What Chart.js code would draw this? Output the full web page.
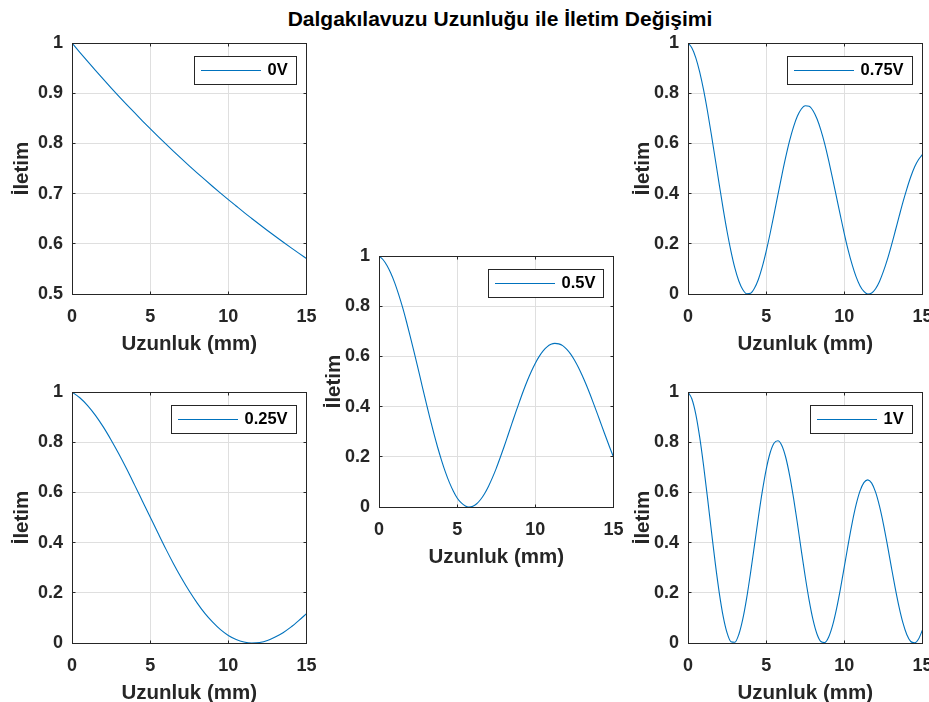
<!DOCTYPE html>
<html>
<head>
<meta charset="utf-8">
<script src="https://cdn.jsdelivr.net/npm/chart.js@4.4.1/dist/chart.umd.min.js"></script>
<style>
  html, body { margin: 0; padding: 0; background: #fff; overflow: hidden; }
  #fig { position: relative; width: 929px; height: 702px; overflow: hidden; background: #fff; }
  #title {
    position: absolute; left: 500px; top: 8px; transform: translateX(-50%);
    font: bold 21px "Liberation Sans", Arial, Helvetica, sans-serif; line-height: 21px;
    white-space: nowrap; color: #000;
  }
  .panel { position: absolute; }
</style>
</head>
<body>
<div id="fig">
  <div id="title">Dalgakılavuzu Uzunluğu ile İletim Değişimi</div>
</div>
<script>
// waveguide length samples (mm)
const lengthCoarse = [0, 0.5, 1, 1.5, 2, 2.5, 3, 3.5, 4, 4.5, 5, 5.5, 6, 6.5, 7, 7.5, 8, 8.5, 9, 9.5, 10,
  10.5, 11, 11.5, 12, 12.5, 13, 13.5, 14, 14.5, 15];
const lengthFine = [0, 0.25, 0.5, 0.75, 1, 1.25, 1.5, 1.75, 2, 2.25, 2.5, 2.75, 3, 3.25, 3.5, 3.75, 4, 4.25,
  4.5, 4.75, 5, 5.25, 5.5, 5.75, 6, 6.25, 6.5, 6.75, 7, 7.25, 7.5, 7.75, 8, 8.25, 8.5, 8.75, 9, 9.25, 9.5,
  9.75, 10, 10.25, 10.5, 10.75, 11, 11.25, 11.5, 11.75, 12, 12.25, 12.5, 12.75, 13, 13.25, 13.5, 13.75, 14,
  14.25, 14.5, 14.75, 15];

// transmission for each applied voltage
const trans0V = [1.0000, 0.9815, 0.9633, 0.9455, 0.9279, 0.9107, 0.8939, 0.8773, 0.8611, 0.8451, 0.8295,
  0.8141, 0.7990, 0.7842, 0.7697, 0.7554, 0.7414, 0.7277, 0.7142, 0.7010, 0.6880, 0.6753, 0.6627, 0.6505,
  0.6384, 0.6266, 0.6150, 0.6036, 0.5924, 0.5814, 0.5707];
const trans025V = [1.000, 0.977, 0.946, 0.907, 0.861, 0.809, 0.753, 0.693, 0.630, 0.566, 0.502, 0.438, 0.375,
  0.315, 0.259, 0.207, 0.160, 0.118, 0.083, 0.053, 0.030, 0.014, 0.004, 0.000, 0.002, 0.010, 0.024, 0.041,
  0.063, 0.089, 0.117];
const trans05V = [1.000, 0.986, 0.963, 0.932, 0.894, 0.848, 0.797, 0.740, 0.679, 0.616, 0.551, 0.485, 0.420,
  0.356, 0.295, 0.238, 0.186, 0.139, 0.098, 0.064, 0.036, 0.017, 0.005, 0.000, 0.003, 0.013, 0.030, 0.053,
  0.082, 0.116, 0.154, 0.196, 0.240, 0.286, 0.332, 0.378, 0.422, 0.465, 0.505, 0.541, 0.573, 0.600, 0.622,
  0.638, 0.648, 0.652, 0.650, 0.643, 0.629, 0.610, 0.586, 0.557, 0.524, 0.488, 0.449, 0.408, 0.366, 0.323,
  0.281, 0.239, 0.199];
const trans075V = [1.000, 0.980, 0.941, 0.884, 0.812, 0.727, 0.633, 0.535, 0.436, 0.339, 0.249, 0.170, 0.103,
  0.052, 0.018, 0.001, 0.003, 0.023, 0.058, 0.108, 0.170, 0.240, 0.316, 0.395, 0.472, 0.545, 0.611, 0.666,
  0.709, 0.737, 0.750, 0.748, 0.730, 0.698, 0.653, 0.597, 0.531, 0.460, 0.386, 0.312, 0.240, 0.174, 0.117,
  0.069, 0.033, 0.010, 0.000, 0.004, 0.021, 0.050, 0.090, 0.137, 0.191, 0.249, 0.308, 0.366, 0.419, 0.467,
  0.507, 0.536, 0.556];
const trans1V = [1.000, 0.972, 0.911, 0.819, 0.705, 0.577, 0.444, 0.315, 0.200, 0.106, 0.040, 0.005, 0.003,
  0.034, 0.094, 0.178, 0.279, 0.389, 0.500, 0.603, 0.691, 0.757, 0.796, 0.806, 0.787, 0.740, 0.668, 0.578,
  0.476, 0.368, 0.264, 0.170, 0.092, 0.036, 0.006, 0.002, 0.024, 0.070, 0.136, 0.216, 0.304, 0.394, 0.478,
  0.550, 0.605, 0.639, 0.650, 0.637, 0.601, 0.545, 0.474, 0.392, 0.305, 0.221, 0.144, 0.080, 0.033, 0.006,
  0.001, 0.016, 0.052];

const voltLabels = ['0V', '0.25V', '0.5V', '0.75V', '1V'];

const FONT = '"Liberation Sans", Arial, Helvetica, sans-serif';
const INK = '#262626';
const LINE = 'rgb(0,114,189)';

// plot area of each subplot (px inside the figure)
const panels = [
  { label: voltLabels[0], xs: lengthCoarse, ys: trans0V,   left: 72,  top: 43,  yMin: 0.5, yStep: 0.1, yPad: 10.5 },
  { label: voltLabels[3], xs: lengthFine,   ys: trans075V, left: 688, top: 43,  yMin: 0,   yStep: 0.2, yPad: 15 },
  { label: voltLabels[2], xs: lengthFine,   ys: trans05V,  left: 379, top: 256, yMin: 0,   yStep: 0.2, yPad: 15 },
  { label: voltLabels[1], xs: lengthCoarse, ys: trans025V, left: 72,  top: 392, yMin: 0,   yStep: 0.2, yPad: 10.5 },
  { label: voltLabels[4], xs: lengthFine,   ys: trans1V,   left: 688, top: 392, yMin: 0,   yStep: 0.2, yPad: 15 }
];
const PLOT_W = 234, PLOT_H = 251;
const Y_AXIS_W = 72, X_AXIS_H = 63, PAD_TOP = 20, PAD_RIGHT = 20;

const crisp = v => Math.round(v - 0.5) + 0.5;

// full box around the axes with short inward tick marks on all four sides
const axesBox = {
  id: 'axesBox',
  afterDraw(chart) {
    const { ctx, chartArea: a, scales: { x, y } } = chart;
    const l = crisp(a.left), r = crisp(a.right), t = crisp(a.top), b = crisp(a.bottom);
    ctx.save();
    ctx.strokeStyle = INK;
    ctx.lineWidth = 1;
    ctx.strokeRect(l, t, r - l, b - t);
    ctx.beginPath();
    x.ticks.forEach(tk => {
      const px = crisp(x.getPixelForValue(tk.value));
      ctx.moveTo(px, b); ctx.lineTo(px, b - 3);
      ctx.moveTo(px, t); ctx.lineTo(px, t + 3);
    });
    y.ticks.forEach(tk => {
      const py = crisp(y.getPixelForValue(tk.value));
      ctx.moveTo(l, py); ctx.lineTo(l + 3, py);
      ctx.moveTo(r, py); ctx.lineTo(r - 3, py);
    });
    ctx.stroke();
    ctx.restore();
  }
};

// boxed legend in the upper right corner of the plot
const boxLegend = {
  id: 'boxLegend',
  afterDraw(chart) {
    const { ctx, chartArea: a } = chart;
    const ds = chart.data.datasets[0];
    ctx.save();
    ctx.font = 'bold 16.5px ' + FONT;
    const tw = ctx.measureText(ds.label).width;
    const h = 28, w = Math.round(6.5 + 60 + 7 + tw + 8);
    const right = Math.round(a.right - 10), top = Math.round(a.top + 13);
    const left = right - w;
    ctx.fillStyle = '#fff';
    ctx.fillRect(left, top, w, h);
    ctx.strokeStyle = INK;
    ctx.lineWidth = 1;
    ctx.strokeRect(left + 0.5, top + 0.5, w, h);
    const cy = Math.round(top + h / 2) + 0.5;
    ctx.strokeStyle = ds.borderColor;
    ctx.lineWidth = 1;
    ctx.beginPath();
    ctx.moveTo(left + 7, cy);
    ctx.lineTo(left + 67, cy);
    ctx.stroke();
    ctx.fillStyle = '#000';
    ctx.textBaseline = 'middle';
    ctx.textAlign = 'left';
    ctx.fillText(ds.label, left + 73.5, top + h / 2 + 0.5);
    ctx.restore();
  }
};

Chart.defaults.font.family = FONT;
Chart.defaults.font.weight = 'bold';
Chart.defaults.color = INK;

const fig = document.getElementById('fig');

panels.forEach(p => {
  const div = document.createElement('div');
  div.className = 'panel';
  const cw = Y_AXIS_W + PLOT_W + PAD_RIGHT;
  const ch = PAD_TOP + PLOT_H + X_AXIS_H;
  const canvas = document.createElement('canvas');
  canvas.width = cw;
  canvas.height = ch;
  canvas.style.width = cw + 'px';
  canvas.style.height = ch + 'px';
  div.appendChild(canvas);
  fig.appendChild(div);

  const chart = new Chart(canvas, {
    type: 'line',
    data: {
      datasets: [{
        label: p.label,
        data: p.xs.map((x, i) => ({ x: x, y: p.ys[i] })),
        borderColor: LINE,
        borderWidth: 1.1,
        pointRadius: 0,
        fill: false,
        cubicInterpolationMode: 'monotone'
      }]
    },
    options: {
      responsive: false,
      maintainAspectRatio: false,
      animation: false,
      devicePixelRatio: 1,
      layout: { autoPadding: false, padding: { left: 0, top: PAD_TOP, right: PAD_RIGHT, bottom: 0 } },
      plugins: { legend: { display: false }, tooltip: { enabled: false } },
      scales: {
        x: {
          type: 'linear',
          min: 0, max: 15,
          afterFit(s) { s.height = X_AXIS_H; },
          ticks: { stepSize: 5, padding: 12.5, maxRotation: 0, font: { size: 18, weight: 'bold' }, color: INK },
          grid: { color: '#dfdfdf', drawTicks: false },
          border: { display: false },
          title: { display: true, text: 'Uzunluk (mm)', font: { size: 20.5, weight: 'bold' }, color: INK, padding: 0 }
        },
        y: {
          min: p.yMin, max: 1,
          afterFit(s) { s.width = Y_AXIS_W; },
          ticks: {
            stepSize: p.yStep, padding: 9, font: { size: 18, weight: 'bold' }, color: INK,
            callback: v => String(+v.toFixed(2))
          },
          grid: { color: '#dfdfdf', drawTicks: false },
          border: { display: false },
          title: { display: true, text: 'İletim', font: { size: 20.5, weight: 'bold' }, color: INK, padding: { top: p.yPad, bottom: 0 } }
        }
      }
    },
    plugins: [axesBox, boxLegend]
  });

  // grow the canvas until the plot area has the wanted size, then line it up on whole pixels
  const a = chart.chartArea;
  const dw = Math.round(PLOT_W - (a.right - a.left));
  const dh = Math.round(PLOT_H - (a.bottom - a.top));
  if (dw !== 0 || dh !== 0) {
    chart.resize(cw + dw, ch + dh);
  }
  const b = chart.chartArea;
  div.style.left = Math.round(p.left - b.left) + 'px';
  div.style.top = Math.round(p.top - b.top) + 'px';
});
</script>
</body>
</html>
